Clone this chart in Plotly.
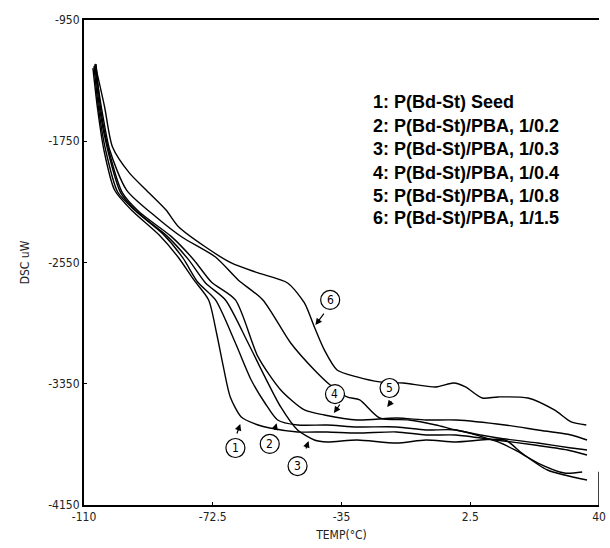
import plotly.graph_objects as go

# ---- data ----
c1_x = [-107.4,-106.0,-104.2,-101.1,-96.2,-88.1,-82.4,-78.0,-73.7,-71.4,-69.4,-67.4,-64.2,-59.3,-55.9,-47.8,-39.2,-30.5,-19.0,-10.4,-1.7,9.8,21.3,30.8,36.5]
c1_y = [-1267,-1544,-1808,-2072,-2204,-2369,-2520,-2665,-2797,-3015,-3239,-3437,-3569,-3622,-3642,-3668,-3668,-3675,-3668,-3688,-3688,-3721,-3754,-3787,-3820]

c2_x = [-107.1,-105.7,-103.7,-100.2,-95.3,-87.0,-81.2,-76.9,-71.7,-65.9,-61.3,-57.3,-53.6,-47.8,-39.2,-30.5,-19.0,-10.4,-1.7,10.6,15.5,22.2,29.9,35.1]
c2_y = [-1254,-1544,-1808,-2085,-2204,-2362,-2520,-2679,-2797,-3081,-3325,-3477,-3589,-3622,-3622,-3635,-3635,-3655,-3655,-3734,-3787,-3873,-3939,-3932]

c3_x = [-106.8,-105.4,-103.1,-99.3,-94.5,-85.8,-79.5,-74.6,-68.8,-62.2,-57.3,-52.7,-47.8,-42.9,-39.2,-30.5,-19.0,-10.4,-1.7,12.6,17.5,25.0,36.5]
c3_y = [-1247,-1544,-1808,-2091,-2217,-2376,-2533,-2685,-2797,-3081,-3305,-3503,-3655,-3721,-3734,-3721,-3741,-3721,-3734,-3721,-3807,-3919,-3985]

c4_x = [-106.5,-105.1,-102.8,-98.8,-93.9,-84.7,-78.0,-72.9,-65.9,-59.3,-52.7,-45.8,-40.0,-30.5,-19.0,-10.4,-1.7,12.6,22.2,31.9,36.5]
c4_y = [-1240,-1544,-1808,-2091,-2217,-2376,-2533,-2679,-2797,-3173,-3391,-3523,-3556,-3589,-3576,-3589,-3589,-3622,-3655,-3688,-3721]

c5_x = [-106.8,-104.8,-102.5,-97.6,-89.0,-81.5,-71.7,-65.1,-57.9,-49.8,-42.9,-38.3,-33.4,-29.7,-23.9,-15.3,-7.5,-1.7,10.6,22.2,31.9,36.5]
c5_y = [-1254,-1544,-1808,-2072,-2250,-2382,-2514,-2665,-2797,-3081,-3259,-3358,-3437,-3457,-3576,-3589,-3622,-3655,-3708,-3741,-3774,-3787]

c6_x = [-106.8,-104.0,-101.7,-96.8,-91.9,-86.1,-82.4,-74.6,-67.1,-59.3,-50.7,-45.8,-42.9,-40.0,-36.3,-30.5,-23.9,-17.0,-7.5,-2.3,1.1,6.0,10.6,19.3,27.0,31.9,36.3]
c6_y = [-1240,-1524,-1788,-1959,-2072,-2204,-2316,-2448,-2553,-2619,-2685,-2817,-2976,-3127,-3259,-3305,-3338,-3345,-3371,-3345,-3371,-3444,-3437,-3444,-3523,-3602,-3622]

legend_lines = [
    "1: P(Bd-St) Seed",
    "2: P(Bd-St)/PBA, 1/0.2",
    "3: P(Bd-St)/PBA, 1/0.3",
    "4: P(Bd-St)/PBA, 1/0.4",
    "5: P(Bd-St)/PBA, 1/0.8",
    "6: P(Bd-St)/PBA, 1/1.5",
]

x_tickvals = [-110, -72.5, -35, 2.5, 40]
x_ticktext = ["-110", "-72.5", "-35", "2.5", "40"]
y_tickvals = [-950, -1750, -2550, -3350, -4150]
y_ticktext = ["-950", "-1750", "-2550", "-3350", "-4150"]

# circled labels: number, circle centre, arrow tail, arrow tip
label_nums = ["1", "2", "3", "4", "5", "6"]
label_cx = [-65.9, -55.9, -47.8, -36.9, -21.0, -38.3]
label_cy = [-3774, -3747, -3893, -3418, -3378, -2797]
arrow_tail_x = [-65.6, -54.6, -45.5, -35.2, -20.1, -39.8]
arrow_tail_y = [-3688, -3664, -3787, -3477, -3457, -2878]
arrow_tip_x = [-64.5, -53.9, -44.6, -37.2, -21.7, -42.6]
arrow_tip_y = [-3615, -3610, -3728, -3543, -3503, -2962]

series = [(c1_x, c1_y), (c2_x, c2_y), (c3_x, c3_y), (c4_x, c4_y), (c5_x, c5_y), (c6_x, c6_y)]

fig = go.Figure()
for i, (xs, ys) in enumerate(series):
    fig.add_trace(go.Scatter(
        x=xs, y=ys, mode="lines", name=legend_lines[i],
        line=dict(color="black", width=1.4, shape="spline", smoothing=0.7),
        showlegend=False, hoverinfo="skip"))

axis_font = dict(family="DejaVu Sans Condensed, DejaVu Sans, sans-serif", size=12, color="#222")
title_font = dict(family="DejaVu Sans Condensed, DejaVu Sans, sans-serif", size=12, color="#222")

annotations = []
shapes = []
for i in range(6):
    shapes.append(dict(type="circle", xref="x", yref="y",
                       xsizemode="pixel", ysizemode="pixel",
                       xanchor=label_cx[i], yanchor=label_cy[i],
                       x0=-9.5, x1=9.5, y0=-9.5, y1=9.5,
                       line=dict(color="black", width=1.2), fillcolor="white"))
    annotations.append(dict(x=label_cx[i], y=label_cy[i], xref="x", yref="y",
                            text=label_nums[i], showarrow=False,
                            font=dict(family="DejaVu Sans Condensed, DejaVu Sans", size=12, color="black")))
    annotations.append(dict(x=arrow_tip_x[i], y=arrow_tip_y[i], xref="x", yref="y",
                            ax=arrow_tail_x[i], ay=arrow_tail_y[i], axref="x", ayref="y",
                            text="", showarrow=True, arrowhead=2, arrowsize=1.1,
                            arrowwidth=1.2, arrowcolor="black", standoff=0, startstandoff=0))

legend_y = [0.831, 0.781, 0.734, 0.684, 0.637, 0.592]
for i, t in enumerate(legend_lines):
    annotations.append(dict(x=0.557, y=legend_y[i], xref="paper", yref="paper",
                            xanchor="left", yanchor="middle", text="<b>" + t + "</b>",
                            showarrow=False,
                            font=dict(family="Liberation Sans, Arial, sans-serif", size=18, color="black")))

# partial right border seen at bottom right
shapes.append(dict(type="line", xref="x", yref="y", x0=40, x1=40, y0=-3930, y1=-4150,
                   line=dict(color="black", width=1.5)))

fig.update_layout(
    width=610, height=548,
    margin=dict(l=84, r=11, t=20, b=43, autoexpand=False),
    paper_bgcolor="white", plot_bgcolor="white",
    annotations=annotations, shapes=shapes,
    xaxis=dict(range=[-110, 40], tickvals=x_tickvals, ticktext=x_ticktext,
               showgrid=False, zeroline=False, showline=True, linecolor="black",
               linewidth=2, mirror=True, ticks="inside", ticklen=3, tickcolor="black",
               tickfont=axis_font, automargin=False, ticklabeloverflow="allow",
               title=dict(text="TEMP(°C)", font=title_font, standoff=7)),
    yaxis=dict(range=[-4150, -950], tickvals=y_tickvals, ticktext=y_ticktext,
               showgrid=False, zeroline=False, showline=True, linecolor="black",
               linewidth=2, ticks="inside", ticklen=3, tickcolor="black",
               tickfont=axis_font, automargin=False, ticklabeloverflow="allow",
               title=dict(text="DSC uW", font=title_font, standoff=16)),
)

fig.write_html("out.html", config={"displayModeBar": False},
               post_script="document.body.style.margin='0';")
